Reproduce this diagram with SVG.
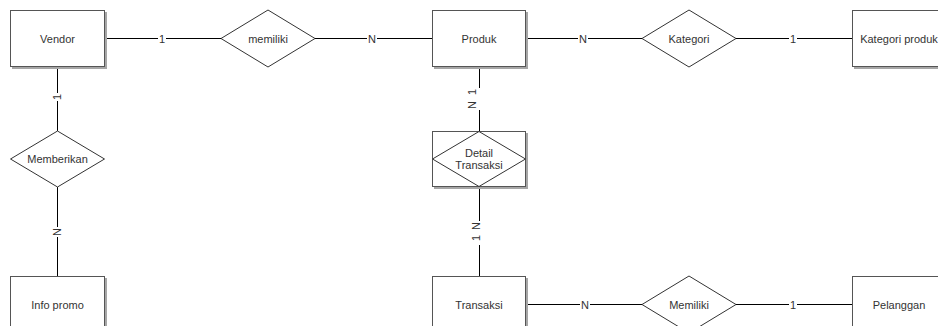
<svg xmlns="http://www.w3.org/2000/svg" width="938" height="326" viewBox="0 0 938 326">
  <style>
    .shadow { fill: #a6a6a6; }
    .box { fill: #ffffff; stroke: #555555; stroke-width: 1; }
    .rel { fill: #ffffff; stroke: #333333; stroke-width: 1; }
    .line { stroke: #000000; stroke-width: 1; fill: none; }
    .gap { fill: #ffffff; }
    text { font-family: "Liberation Sans", Arial, sans-serif; font-size: 11px; fill: #333333; text-anchor: middle; dominant-baseline: central; }
  </style>

  <rect width="938" height="326" fill="#ffffff"/>

  <!-- relationship lines with cardinality labels -->
  <g id="connectors">
    <line class="line" x1="105" y1="38.5" x2="221" y2="38.5"/>
    <rect class="gap" x="158" y="32" width="8" height="13"/>
    <text x="162" y="38.5">1</text>

    <line class="line" x1="315" y1="38.5" x2="432" y2="38.5"/>
    <rect class="gap" x="367" y="32" width="10" height="13"/>
    <text x="372" y="38.5">N</text>

    <line class="line" x1="526" y1="38.5" x2="642" y2="38.5"/>
    <rect class="gap" x="578" y="32" width="10" height="13"/>
    <text x="583" y="38.5">N</text>

    <line class="line" x1="736" y1="38.5" x2="852" y2="38.5"/>
    <rect class="gap" x="789" y="32" width="8" height="13"/>
    <text x="793" y="38.5">1</text>

    <line class="line" x1="57.5" y1="67" x2="57.5" y2="131"/>
    <rect class="gap" x="51" y="93" width="13" height="8"/>
    <text transform="translate(57 97) rotate(-90)">1</text>

    <line class="line" x1="57.5" y1="187" x2="57.5" y2="276"/>
    <rect class="gap" x="51" y="227" width="13" height="10"/>
    <text transform="translate(57 232) rotate(-90)">N</text>

    <line class="line" x1="479.5" y1="67" x2="479.5" y2="88"/>
    <line class="line" x1="479.5" y1="110" x2="479.5" y2="131"/>
    <text transform="translate(472 92) rotate(-90)">1</text>
    <text transform="translate(472 105) rotate(-90)">N</text>

    <line class="line" x1="479.5" y1="187" x2="479.5" y2="221"/>
    <line class="line" x1="479.5" y1="245" x2="479.5" y2="276"/>
    <text transform="translate(476 226) rotate(-90)">N</text>
    <text transform="translate(476 238) rotate(-90)">1</text>

    <line class="line" x1="526" y1="304.5" x2="642" y2="304.5"/>
    <rect class="gap" x="580" y="298" width="10" height="13"/>
    <text x="585" y="304.5">N</text>

    <line class="line" x1="736" y1="304.5" x2="852" y2="304.5"/>
    <rect class="gap" x="789" y="298" width="8" height="13"/>
    <text x="793" y="304.5">1</text>
  </g>

  <!-- entities -->
  <g id="vendor">
    <rect class="shadow" x="12" y="12" width="95" height="57"/>
    <rect class="box" x="10.5" y="10.5" width="94" height="56"/>
    <text x="57.5" y="38.5">Vendor</text>
  </g>

  <g id="produk">
    <rect class="shadow" x="434" y="12" width="94" height="57"/>
    <rect class="box" x="432.5" y="10.5" width="93" height="56"/>
    <text x="479" y="38.5">Produk</text>
  </g>

  <g id="kategori-produk">
    <rect class="shadow" x="854" y="12" width="95" height="57"/>
    <rect class="box" x="852.5" y="10.5" width="94" height="56"/>
    <text x="899" y="38.5">Kategori produk</text>
  </g>

  <g id="info-promo">
    <rect class="shadow" x="12" y="278" width="95" height="57"/>
    <rect class="box" x="10.5" y="276.5" width="94" height="56"/>
    <text x="57.5" y="304.5">Info promo</text>
  </g>

  <g id="transaksi">
    <rect class="shadow" x="434" y="278" width="94" height="57"/>
    <rect class="box" x="432.5" y="276.5" width="93" height="56"/>
    <text x="479" y="304.5">Transaksi</text>
  </g>

  <g id="pelanggan">
    <rect class="shadow" x="854" y="278" width="95" height="57"/>
    <rect class="box" x="852.5" y="276.5" width="94" height="56"/>
    <text x="899" y="304.5">Pelanggan</text>
  </g>

  <!-- relationships -->
  <g id="memiliki">
    <polygon class="rel" points="221,38.5 268,10 315,38.5 268,67"/>
    <text x="268" y="38.5">memiliki</text>
  </g>

  <g id="kategori">
    <polygon class="rel" points="642,38.5 689,10 736,38.5 689,67"/>
    <text x="689" y="38.5">Kategori</text>
  </g>

  <g id="memberikan">
    <polygon class="rel" points="10.5,159 57.5,131 104.5,159 57.5,187"/>
    <text x="57.5" y="159">Memberikan</text>
  </g>

  <g id="detail-transaksi">
    <rect class="shadow" x="434" y="133" width="94" height="56"/>
    <rect class="box" x="432.5" y="131.5" width="93" height="55"/>
    <polygon class="rel" points="432.5,159 479,131.5 525.5,159 479,186.5"/>
    <text x="479" y="153">Detail</text>
    <text x="479" y="165">Transaksi</text>
  </g>

  <g id="memiliki-pelanggan">
    <polygon class="rel" points="642,304.5 689,276 736,304.5 689,333"/>
    <text x="689" y="304.5">Memiliki</text>
  </g>
</svg>
